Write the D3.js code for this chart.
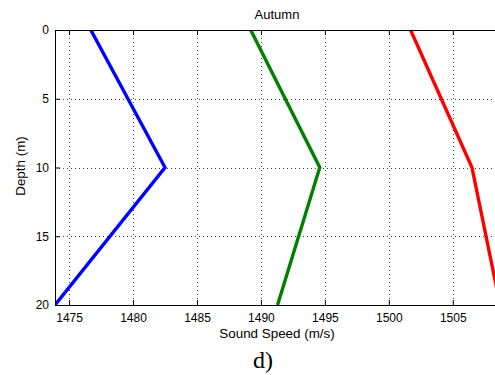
<!DOCTYPE html>
<html>
<head>
<meta charset="utf-8">
<script src="https://cdn.jsdelivr.net/npm/d3@7"></script>
<style>
body { margin: 0; background: #fff; }
text { font-family: "Liberation Sans", Arial, sans-serif; fill: #000; }
</style>
</head>
<body>
<div id="chart"></div>
<script>
var WIDTH = 495;
var HEIGHT = 375;

var depths = [0, 10, 20];
var blueSpeed = [1476.7, 1482.5, 1473.9];
var greenSpeed = [1489.2, 1494.6, 1491.3];
var redSpeed = [1501.7, 1506.5, 1508.7];
var xTicks = [1475, 1480, 1485, 1490, 1495, 1500, 1505];
var yTicks = [0, 5, 10, 15, 20];

var series = [
	{ values: blueSpeed, color: '#0000ff' },
	{ values: greenSpeed, color: '#008000' },
	{ values: redSpeed, color: '#ff0000' }
];

var PLOT = { left: 55, top: 30, right: 495, bottom: 305 };

var svg = d3.select('#chart').append('svg')
	.attr('width', WIDTH)
	.attr('height', HEIGHT);

var x = d3.scaleLinear().domain([1473.9, 1508.3]).range([PLOT.left, PLOT.right]);
var y = d3.scaleLinear().domain([0, 20]).range([PLOT.top, PLOT.bottom]);

svg.append('clipPath').attr('id', 'clip')
	.append('rect')
	.attr('x', PLOT.left).attr('y', PLOT.top)
	.attr('width', PLOT.right - PLOT.left).attr('height', PLOT.bottom - PLOT.top);

// grid, dotted
var grid = svg.append('g');
grid.selectAll('.vg').data(xTicks).enter().append('line')
	.attr('x1', function(d) { return Math.round(x(d)) + 0.5; })
	.attr('x2', function(d) { return Math.round(x(d)) + 0.5; })
	.attr('y1', PLOT.top).attr('y2', PLOT.bottom)
	.attr('stroke', '#444').attr('stroke-width', 1)
	.attr('stroke-dasharray', '1,3');
grid.selectAll('.hg').data(yTicks.slice(1, -1)).enter().append('line')
	.attr('y1', function(d) { return Math.round(y(d)) + 0.5; })
	.attr('y2', function(d) { return Math.round(y(d)) + 0.5; })
	.attr('x1', PLOT.left).attr('x2', PLOT.right)
	.attr('stroke', '#444').attr('stroke-width', 1)
	.attr('stroke-dasharray', '1,3');

// profiles
var line = d3.line()
	.x(function(d) { return x(d[0]); })
	.y(function(d) { return y(d[1]); });

svg.append('g').attr('clip-path', 'url(#clip)')
	.selectAll('path').data(series).enter().append('path')
	.attr('d', function(s) {
		return line(s.values.map(function(v, i) { return [v, depths[i]]; }));
	})
	.attr('fill', 'none')
	.attr('stroke', function(s) { return s.color; })
	.attr('stroke-width', 3.4)
	.attr('stroke-linejoin', 'miter');

// axes (MATLAB style, ticks inward)
var xBottom = d3.axisBottom(x).tickValues(xTicks).tickSize(-5).tickPadding(8).tickFormat(d3.format('d'));
var xTop = d3.axisTop(x).tickValues(xTicks).tickSize(-5).tickFormat('');
var yLeft = d3.axisLeft(y).tickValues(yTicks).tickSize(-5).tickPadding(6).tickFormat(d3.format('d'));

function style(g) {
	g.select('.domain').remove();
	g.selectAll('.tick line').attr('stroke', '#000');
	g.selectAll('.tick text').attr('font-size', 12).attr('font-family', '"Liberation Sans", Arial, sans-serif');
}

svg.append('g').attr('transform', 'translate(0,' + PLOT.bottom + ')').call(xBottom).call(style);
svg.append('g').attr('transform', 'translate(0,' + PLOT.top + ')').call(xTop).call(style);
svg.append('g').attr('transform', 'translate(' + PLOT.left + ',0)').call(yLeft).call(style);

// box
svg.append('path')
	.attr('d', 'M' + PLOT.right + ',' + (PLOT.top + 0.5) + 'H' + (PLOT.left + 0.5) + 'V' + (PLOT.bottom + 0.5) + 'H' + PLOT.right)
	.attr('fill', 'none').attr('stroke', '#000').attr('stroke-width', 1);

svg.append('text')
	.attr('x', 277).attr('y', 19)
	.attr('text-anchor', 'middle').attr('font-size', 13)
	.text('Autumn');

svg.append('text')
	.attr('x', 277).attr('y', 338)
	.attr('text-anchor', 'middle').attr('font-size', 13.4)
	.text('Sound Speed (m/s)');

svg.append('text')
	.attr('transform', 'translate(25,166) rotate(-90)')
	.attr('text-anchor', 'middle').attr('font-size', 13.4)
	.text('Depth (m)');

svg.append('text')
	.attr('x', 263).attr('y', 368)
	.attr('text-anchor', 'middle').attr('font-size', 24)
	.style('font-family', '"Liberation Serif", "Times New Roman", serif')
	.text('d)');
</script>
</body>
</html>
